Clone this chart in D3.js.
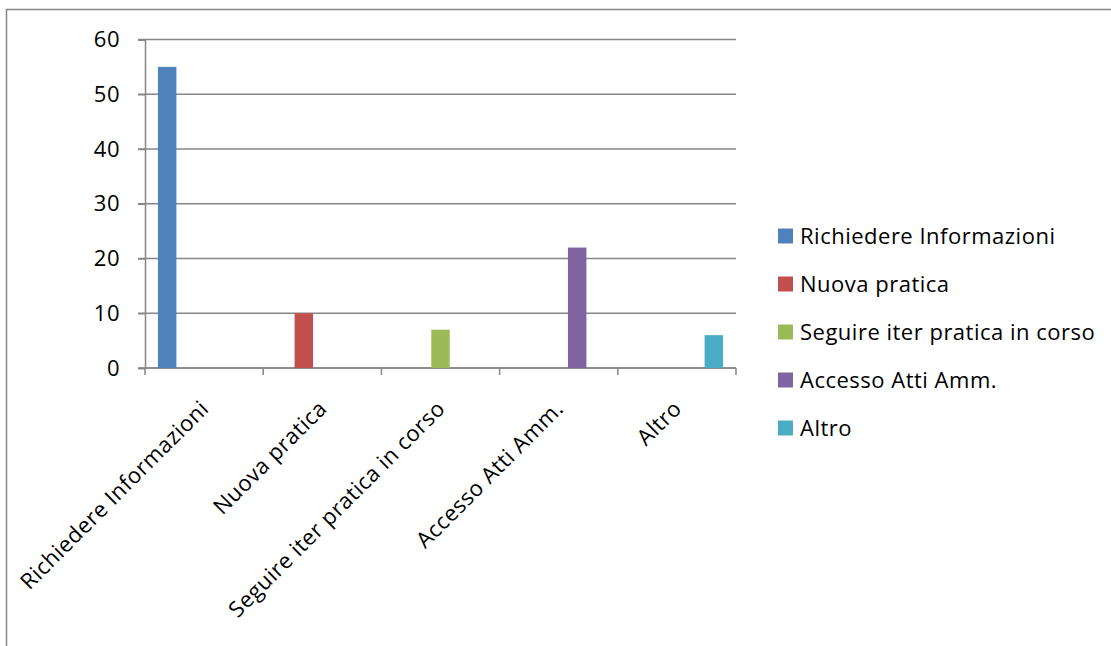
<!DOCTYPE html>
<html>
<head>
<meta charset="utf-8">
<script src="https://cdn.jsdelivr.net/npm/d3@7"></script>
<style>
	body { margin: 0; background: #fff; }
	svg { display: block; }
	text { font-family: "Open Sans", sans-serif; fill: #000; letter-spacing: 0.5px; }
</style>
</head>
<body>
<div id="chart"></div>
<script>
//=================== DATA ====================================
var categories = ["Richiedere Informazioni", "Nuova pratica", "Seguire iter pratica in corso", "Accesso Atti Amm.", "Altro"];
var seriesNames = ["Richiedere Informazioni", "Nuova pratica", "Seguire iter pratica in corso", "Accesso Atti Amm.", "Altro"];
var seriesValues = [55, 10, 7, 22, 6];
var seriesColours = ["#4f81bd", "#c0504d", "#9bbb59", "#8064a2", "#4bacc6"];
var yTicks = [0, 10, 20, 30, 40, 50, 60];

//=================== LAYOUT ====================================
var width = 1111, height = 646;
var plot = {left: 145, right: 736, top: 39.5, bottom: 368};
var fontSize = "22px";

var svg = d3.select("#chart").append("svg")
	.attr("width", width)
	.attr("height", height);

//chart frame (runs off the page on the right and bottom)
svg.append("rect")
	.attr("x", 6.5).attr("y", 9.5)
	.attr("width", 1200).attr("height", 700)
	.attr("fill", "#fff")
	.attr("stroke", "#868686")
	.attr("stroke-width", 1.5);

//scales
var x0 = d3.scaleBand().domain(categories).range([plot.left, plot.right]);
var x1 = d3.scaleBand().domain(seriesNames).range([0, x0.bandwidth()]).paddingOuter(0.7);
var y = d3.scaleLinear().domain([0, 60]).range([plot.bottom, plot.top]);

//gridlines
svg.append("g")
	.selectAll("line")
	.data(yTicks)
	.enter().append("line")
	.attr("x1", plot.left - 7).attr("x2", plot.right)
	.attr("y1", function(d){ return y(d); })
	.attr("y2", function(d){ return y(d); })
	.attr("stroke", "#868686")
	.attr("stroke-width", 1.5);

//y axis
var yAxis = svg.append("g")
	.attr("transform", "translate(" + plot.left + ",0)")
	.call(d3.axisLeft(y).tickValues(yTicks).tickSize(7).tickPadding(18));
yAxis.select(".domain").attr("stroke", "#868686").attr("stroke-width", 1.5);
yAxis.selectAll(".tick line").attr("stroke", "#868686").attr("stroke-width", 1.5);
yAxis.selectAll("text").style("font-size", fontSize).attr("font-family", null);

//x axis (tick marks at category boundaries)
var boundaries = categories.map(function(c){ return x0(c); }).concat([plot.right]);
var xAxis = svg.append("g");
xAxis.append("line")
	.attr("x1", plot.left).attr("x2", plot.right)
	.attr("y1", plot.bottom).attr("y2", plot.bottom)
	.attr("stroke", "#868686").attr("stroke-width", 1.5);
xAxis.selectAll("line.tick")
	.data(boundaries)
	.enter().append("line")
	.classed("tick", true)
	.attr("x1", function(d){ return d; }).attr("x2", function(d){ return d; })
	.attr("y1", plot.bottom).attr("y2", plot.bottom + 7)
	.attr("stroke", "#868686").attr("stroke-width", 1.5);

//rotated category labels
xAxis.selectAll("text")
	.data(categories)
	.enter().append("text")
	.attr("text-anchor", "end")
	.style("font-size", fontSize)
	.attr("transform", function(d){
		var cx = x0(d) + x0.bandwidth() / 2 + 6;
		return "translate(" + cx + "," + (plot.bottom + 42) + ") rotate(-45)";
	})
	.text(function(d){ return d; });

//bars: each series only has a value in its own category
svg.append("g")
	.selectAll("rect")
	.data(seriesNames)
	.enter().append("rect")
	.attr("x", function(d, i){ return x0(categories[i]) + x1(d); })
	.attr("y", function(d, i){ return y(seriesValues[i]); })
	.attr("width", x1.bandwidth())
	.attr("height", function(d, i){ return y(0) - y(seriesValues[i]); })
	.attr("fill", function(d, i){ return seriesColours[i]; });

//legend
var legend = svg.append("g")
	.selectAll("g")
	.data(seriesNames)
	.enter().append("g")
	.attr("transform", function(d, i){ return "translate(778," + (236 + i * 48) + ")"; });
legend.append("rect")
	.attr("x", 0).attr("y", -7.5)
	.attr("width", 15).attr("height", 15)
	.attr("fill", function(d, i){ return seriesColours[i]; });
legend.append("text")
	.attr("x", 22).attr("dy", "0.35em")
	.style("font-size", fontSize)
	.text(function(d){ return d; });
</script>
</body>
</html>
